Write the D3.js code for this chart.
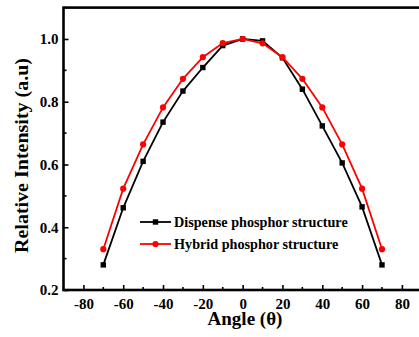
<!DOCTYPE html>
<html><head><meta charset="utf-8">
<script src="https://cdn.jsdelivr.net/npm/d3@7"></script>
<style>body{margin:0;background:#fff}svg{display:block}</style>
</head><body>
<script>
const angles = [-70,-60,-50,-40,-30,-20,-10,0,10,20,30,40,50,60,70];
const dispense = [0.28,0.462,0.61,0.735,0.834,0.909,0.979,1.0,0.994,0.94,0.84,0.723,0.605,0.465,0.28];
const hybrid = [0.33,0.523,0.664,0.782,0.873,0.942,0.987,1.0,0.986,0.942,0.873,0.782,0.664,0.523,0.33];
const xTicks = [-80,-60,-40,-20,0,20,40,60,80];
const yTicks = [0.2,0.4,0.6,0.8,1.0];
const seriesNames = ["Dispense phosphor structure","Hybrid phosphor structure"];

const W=419,H=337;
const L=63.5,R=421.8,T=7.6,B=290;
const svg=d3.select("body").append("svg").attr("width",W).attr("height",H);
const x=d3.scaleLinear().domain([-90,90]).range([L,R]);
const y=d3.scaleLinear().domain([0.2,1.1]).range([B,T]);
const font="'Liberation Serif','Times New Roman',serif";

svg.append("rect").attr("x",L).attr("y",T).attr("width",R-L).attr("height",B-T)
  .attr("fill","none").attr("stroke","#000").attr("stroke-width",2.6);

const xMinor=d3.range(-90,91,10).filter(v=>!xTicks.includes(v)&&v>-90&&v<90);
const gx=svg.append("g").attr("transform",`translate(0,${B})`)
  .call(d3.axisBottom(x).tickValues(xTicks).tickSize(-5).tickPadding(8).tickFormat(d=>String(d)));
gx.select(".domain").remove();
gx.selectAll("line").attr("stroke-width",1.6);
gx.selectAll("text").attr("font-family",font).attr("font-weight","bold").attr("font-size",15).attr("fill","#000").attr("dy","0.71em");
svg.append("g").selectAll("line").data(xMinor).join("line")
  .attr("x1",d=>x(d)).attr("x2",d=>x(d)).attr("y1",B).attr("y2",B-3).attr("stroke","#000").attr("stroke-width",1.6);

const yMinor=[0.3,0.5,0.7,0.9,1.1];
const gy=svg.append("g").attr("transform",`translate(${L},0)`)
  .call(d3.axisLeft(y).tickValues(yTicks).tickSize(-5).tickPadding(5).tickFormat(d=>d.toFixed(1)));
gy.select(".domain").remove();
gy.selectAll("line").attr("stroke-width",1.6);
gy.selectAll("text").attr("font-family",font).attr("font-weight","bold").attr("font-size",15).attr("fill","#000");
svg.append("g").selectAll("line").data(yMinor).join("line")
  .attr("x1",L).attr("x2",L+3).attr("y1",d=>y(d)).attr("y2",d=>y(d)).attr("stroke","#000").attr("stroke-width",1.6);

svg.append("text").attr("x",245).attr("y",325).attr("text-anchor","middle")
  .attr("font-family",font).attr("font-weight","bold").attr("font-size",19).text("Angle (θ)");
svg.append("text").attr("transform","translate(27.5,155.5) rotate(-90)").attr("text-anchor","middle")
  .attr("font-family",font).attr("font-weight","bold").attr("font-size",19.5)
  .attr("textLength",195).attr("lengthAdjust","spacingAndGlyphs").text("Relative Intensity (a.u)");

const line=d3.line().x(d=>x(d[0])).y(d=>y(d[1]));
const dD=angles.map((a,i)=>[a,dispense[i]]);
const dH=angles.map((a,i)=>[a,hybrid[i]]);
svg.append("path").datum(dD).attr("d",line).attr("fill","none").attr("stroke","#000").attr("stroke-width",1.8);
svg.append("g").selectAll("rect").data(dD).join("rect")
  .attr("x",d=>x(d[0])-2.7).attr("y",d=>y(d[1])-2.7).attr("width",5.4).attr("height",5.4).attr("fill","#000");
svg.append("path").datum(dH).attr("d",line).attr("fill","none").attr("stroke","#ff0000").attr("stroke-width",1.8);
svg.append("g").selectAll("circle").data(dH).join("circle")
  .attr("cx",d=>x(d[0])).attr("cy",d=>y(d[1])).attr("r",3.1).attr("fill","#ff0000");

const lg=svg.append("g");
const rows=[{name:seriesNames[0],c:"#000",sym:"sq",yy:222},{name:seriesNames[1],c:"#ff0000",sym:"ci",yy:244}];
rows.forEach(r=>{
  lg.append("line").attr("x1",140).attr("x2",171).attr("y1",r.yy).attr("y2",r.yy).attr("stroke",r.c).attr("stroke-width",1.8);
  if(r.sym==="sq") lg.append("rect").attr("x",155.5-2.7).attr("y",r.yy-2.7).attr("width",5.4).attr("height",5.4).attr("fill",r.c);
  else lg.append("circle").attr("cx",155.5).attr("cy",r.yy).attr("r",3.1).attr("fill",r.c);
  lg.append("text").attr("x",174).attr("y",r.yy).attr("dy","0.35em").attr("font-family",font)
    .attr("font-weight","bold").attr("font-size",14.2).attr("fill","#000").text(r.name);
});
</script>
</body></html>
